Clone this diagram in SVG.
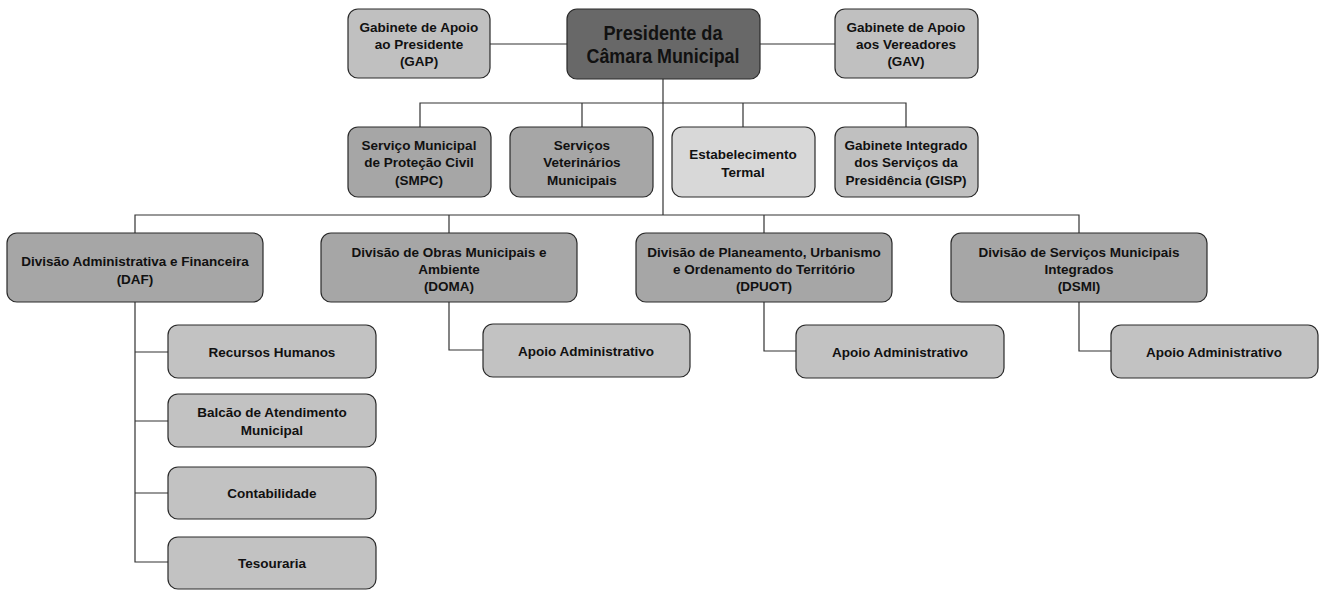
<svg xmlns="http://www.w3.org/2000/svg" width="1319" height="590" viewBox="0 0 1319 590">
<style>
text{font-family:"Liberation Sans Narrow","Liberation Sans",Arial,sans-serif;font-weight:bold;font-size:13.5px;fill:#111;text-anchor:middle}
.b{stroke:#2a2a2a;stroke-width:1.2}
.pres{fill:#686868}
.l1{fill:#c0c0c0}
.d{fill:#a6a6a6}
.e{fill:#d8d8d8}
.c{fill:#c2c2c2}
.big{font-size:20px}
#conn path{fill:none;stroke:#333;stroke-width:1.2}
</style>
<rect width="1319" height="590" fill="#fff"/>
<g id="conn">
<path d="M490 44H567M760 44H835"/>
<path d="M663 79V215"/>
<path d="M420 127V103H906V127M582 103V127M743 103V127"/>
<path d="M135 233V215H1079V233M449 215V233M764 215V233"/>
<path d="M135 302V562H168M135 352H168M135 421H168M135 493H168"/>
<path d="M449 302V350H483M764 302V351H796M1079 302V351H1111"/>
</g>
<g id="gap"><rect class="b l1" x="348" y="9" width="142" height="69" rx="10"/><text x="419" y="32">Gabinete de Apoio</text><text x="419" y="49">ao Presidente</text><text x="419" y="66">(GAP)</text></g>
<g id="pres"><rect class="b pres" x="567" y="9" width="193" height="70" rx="10"/><text class="big" x="663" y="40" textLength="119" lengthAdjust="spacingAndGlyphs">Presidente da</text><text class="big" x="663" y="63" textLength="153" lengthAdjust="spacingAndGlyphs">Câmara Municipal</text></g>
<g id="gav"><rect class="b l1" x="835" y="9" width="143" height="69" rx="10"/><text x="906" y="32">Gabinete de Apoio</text><text x="906" y="49">aos Vereadores</text><text x="906" y="66">(GAV)</text></g>
<g id="smpc"><rect class="b d" x="348" y="127" width="143" height="70" rx="10"/><text x="419" y="150">Serviço Municipal</text><text x="419" y="167">de Proteção Civil</text><text x="419" y="185">(SMPC)</text></g>
<g id="vet"><rect class="b d" x="510" y="127" width="143" height="70" rx="10"/><text x="582" y="150">Serviços</text><text x="582" y="167">Veterinários</text><text x="582" y="185">Municipais</text></g>
<g id="estab"><rect class="b e" x="672" y="127" width="143" height="70" rx="10"/><text x="743" y="159">Estabelecimento</text><text x="743" y="177">Termal</text></g>
<g id="gisp"><rect class="b l1" x="835" y="127" width="143" height="70" rx="10"/><text x="906" y="150">Gabinete Integrado</text><text x="906" y="167">dos Serviços da</text><text x="906" y="185">Presidência (GISP)</text></g>
<g id="daf"><rect class="b d" x="7" y="233" width="256" height="69" rx="10"/><text x="135" y="266">Divisão Administrativa e Financeira</text><text x="135" y="284">(DAF)</text></g>
<g id="doma"><rect class="b d" x="321" y="233" width="256" height="69" rx="10"/><text x="449" y="257">Divisão de Obras Municipais e</text><text x="449" y="274">Ambiente</text><text x="449" y="291">(DOMA)</text></g>
<g id="dpuot"><rect class="b d" x="636" y="233" width="256" height="69" rx="10"/><text x="764" y="257">Divisão de Planeamento, Urbanismo</text><text x="764" y="274">e Ordenamento do Território</text><text x="764" y="291">(DPUOT)</text></g>
<g id="dsmi"><rect class="b d" x="951" y="233" width="256" height="69" rx="10"/><text x="1079" y="257">Divisão de Serviços Municipais</text><text x="1079" y="274">Integrados</text><text x="1079" y="291">(DSMI)</text></g>
<g id="rh"><rect class="b c" x="168" y="325" width="208" height="53" rx="10"/><text x="272" y="357">Recursos Humanos</text></g>
<g id="balcao"><rect class="b c" x="168" y="394" width="208" height="53" rx="10"/><text x="272" y="417">Balcão de Atendimento</text><text x="272" y="435">Municipal</text></g>
<g id="contab"><rect class="b c" x="168" y="467" width="208" height="52" rx="10"/><text x="272" y="498">Contabilidade</text></g>
<g id="tes"><rect class="b c" x="168" y="537" width="208" height="52" rx="10"/><text x="272" y="568">Tesouraria</text></g>
<g id="apoio1"><rect class="b c" x="483" y="324" width="207" height="53" rx="10"/><text x="586" y="356">Apoio Administrativo</text></g>
<g id="apoio2"><rect class="b c" x="796" y="325" width="208" height="53" rx="10"/><text x="900" y="357">Apoio Administrativo</text></g>
<g id="apoio3"><rect class="b c" x="1111" y="325" width="207" height="53" rx="10"/><text x="1214" y="357">Apoio Administrativo</text></g>
</svg>
